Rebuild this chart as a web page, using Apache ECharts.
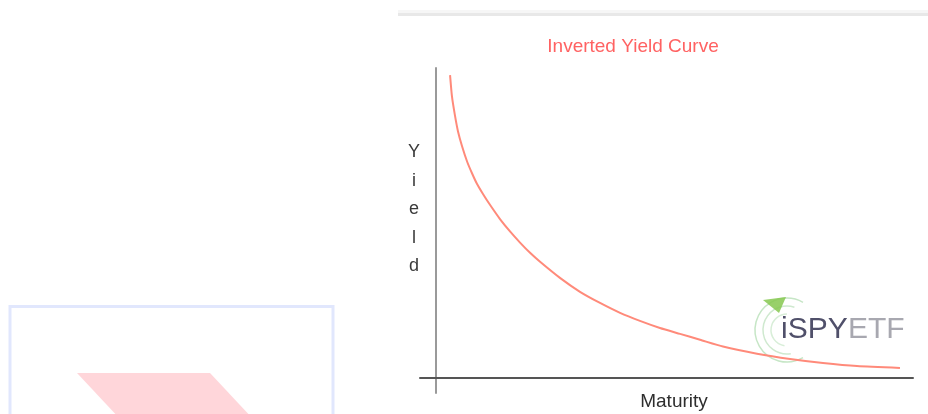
<!DOCTYPE html>
<html>
<head>
<meta charset="utf-8">
<style>
  html, body { margin: 0; padding: 0; background: #ffffff; }
  #chart { width: 928px; height: 414px; }
</style>
<script src="https://cdn.jsdelivr.net/npm/echarts@6/dist/echarts.min.js"></script>
</head>
<body>
<div id="chart"></div>
<script>
// Values (maturity in years, yield in %)
const maturity = [0.89, 1.01, 1.20, 1.39, 1.64, 1.96, 2.27, 2.58, 2.96, 3.40, 4.03, 4.66, 5.29, 5.92, 6.55, 7.80, 9.06, 10.32, 11.58, 12.83, 14.09, 15.35, 16.61, 18.05, 20.19, 22.27, 24.34, 26.48, 29.18];
const yieldValues = [9.77, 9.08, 8.46, 7.95, 7.48, 6.98, 6.60, 6.26, 5.93, 5.58, 5.12, 4.72, 4.36, 4.03, 3.74, 3.22, 2.77, 2.41, 2.09, 1.83, 1.60, 1.41, 1.22, 1.00, 0.77, 0.60, 0.47, 0.37, 0.31];
const chartTitle = 'Inverted Yield Curve';
const xName = 'Maturity';
const yName = 'Yield';

const points = maturity.map((m, i) => [m, yieldValues[i]]);
const font = '"Liberation Sans", Arial, sans-serif';

const chart = echarts.init(document.getElementById('chart'), null, { renderer: 'canvas' });
chart.setOption({
  animation: false,
  backgroundColor: '#ffffff',
  grid: { left: 420, right: 15, top: 68, bottom: 21, containLabel: false },
  xAxis: {
    type: 'value', min: -1, max: 30,
    axisLine: { show: true, onZero: true, lineStyle: { color: '#555555', width: 2 } },
    axisTick: { show: false }, axisLabel: { show: false }, splitLine: { show: false }
  },
  yAxis: {
    type: 'value', min: -0.5, max: 10,
    axisLine: { show: true, onZero: true, lineStyle: { color: '#9a9a9a', width: 2 } },
    axisTick: { show: false }, axisLabel: { show: false }, splitLine: { show: false }
  },
  series: [{
    type: 'line',
    data: points,
    smooth: 0.2,
    symbol: 'none',
    lineStyle: { color: '#ff8a7a', width: 2 },
    z: 3
  }],
  graphic: [
    { type: 'rect', z: 1, shape: { x: 398, y: 13, width: 530, height: 3 }, style: { fill: '#e8e8e8' } },
    { type: 'rect', z: 1, shape: { x: 398, y: 10, width: 530, height: 3 }, style: { fill: '#f6f6f6' } },
    { type: 'rect', z: 1, shape: { x: 10, y: 306.5, width: 323, height: 140 }, style: { fill: 'none', stroke: '#e1e7fd', lineWidth: 3 } },
    { type: 'polygon', z: 1, shape: { points: [[77, 373], [210, 373], [254, 420], [121, 420]] }, style: { fill: '#ffd6da' } },
    { type: 'text', z: 5, x: 633, y: 47, style: { text: chartTitle, font: '19px ' + font, fill: '#ff6262', align: 'center', verticalAlign: 'middle' } },
    { type: 'text', z: 5, x: 414, y: 138, style: { text: yName.split('').join('\n'), font: '18px ' + font, lineHeight: 28.5, fill: '#3a3a3a', align: 'center', verticalAlign: 'top' } },
    { type: 'text', z: 5, x: 674, y: 402, style: { text: xName, font: '19px ' + font, fill: '#2e2e2e', align: 'center', verticalAlign: 'middle' } },
    // watermark logo
    { type: 'arc', z: 2, shape: { cx: 787, cy: 330, r: 32, startAngle: Math.PI / 3, endAngle: Math.PI * 5 / 3, clockwise: true }, style: { stroke: '#c6e6c6', lineWidth: 1.5, fill: 'none' } },
    { type: 'arc', z: 2, shape: { cx: 787, cy: 330, r: 24, startAngle: Math.PI * 0.45, endAngle: Math.PI * 1.6, clockwise: true }, style: { stroke: '#cfe9cf', lineWidth: 1.5, fill: 'none' } },
    { type: 'arc', z: 2, shape: { cx: 787, cy: 330, r: 16, startAngle: Math.PI * 0.55, endAngle: Math.PI * 1.5, clockwise: true }, style: { stroke: '#d8eed8', lineWidth: 1.5, fill: 'none' } },
    { type: 'polygon', z: 2, shape: { points: [[763, 300], [786, 297], [779, 313]] }, style: { fill: '#86c850', opacity: 0.85 } },
    { type: 'text', z: 4, x: 781, y: 330, style: { text: 'iSPY', font: '30px ' + font, fill: '#50506a', align: 'left', verticalAlign: 'middle' } },
    { type: 'text', z: 4, x: 848, y: 330, style: { text: 'ETF', font: '30px ' + font, fill: '#a8a8b0', align: 'left', verticalAlign: 'middle' } }
  ]
});
</script>
</body>
</html>
